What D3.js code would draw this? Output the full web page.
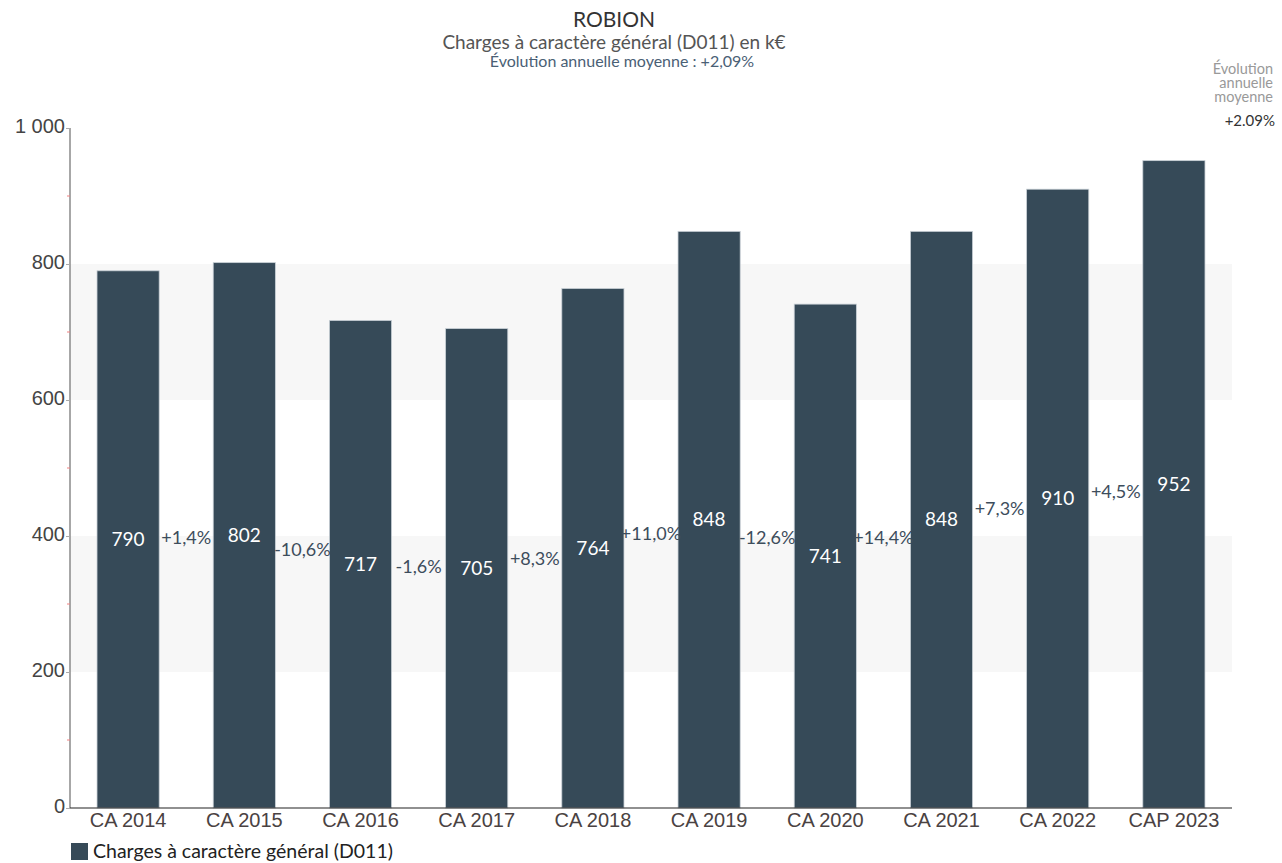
<!DOCTYPE html>
<html><head><meta charset="utf-8">
<script src="https://cdn.jsdelivr.net/npm/d3@7"></script>
<style>
html,body{margin:0;padding:0;background:#fff;}
svg{display:block;font-family:Lato,"Open Sans",sans-serif;}
</style></head>
<body>
<svg id="chart" width="1282" height="863"></svg>
<script>
const categories = ["CA 2014","CA 2015","CA 2016","CA 2017","CA 2018","CA 2019","CA 2020","CA 2021","CA 2022","CAP 2023"];
const values = [790, 802, 717, 705, 764, 848, 741, 848, 910, 952];
const evolutions = ["+1,4%","-10,6%","-1,6%","+8,3%","+11,0%","-12,6%","+14,4%","+7,3%","+4,5%"];
const yTicks = [0, 200, 400, 600, 800, 1000];
const yMinorTicks = [100, 300, 500, 700, 900];
const bands = [[200, 400], [600, 800]];
const seriesName = "Charges à caractère général (D011)";
const titleText = "ROBION";
const subtitleText = "Charges à caractère général (D011) en k€";
const subtitle2Text = "Évolution annuelle moyenne : +2,09%";
const sideLines = ["Évolution", "annuelle", "moyenne"];
const sideValue = "+2.09%";

const svg = d3.select("#chart");
const m = {left: 70, right: 1232, top: 128, bottom: 808};
const x = d3.scaleBand().domain(categories).range([m.left, m.right]).paddingInner(0.465).paddingOuter(0.2325);
const y = d3.scaleLinear().domain([0, 1000]).range([m.bottom, m.top]);
const barColor = "#364a58";

// bands
svg.append("g").selectAll("rect").data(bands).join("rect")
  .attr("x", m.left).attr("width", m.right - m.left)
  .attr("y", d => y(d[1])).attr("height", d => y(d[0]) - y(d[1]))
  .attr("fill", "#f7f7f7");

// bars
svg.append("g").selectAll("rect").data(values).join("rect")
  .attr("x", (d, i) => x(categories[i]))
  .attr("width", x.bandwidth())
  .attr("y", d => y(d))
  .attr("height", d => y(0) - y(d))
  .attr("fill", barColor)
  .attr("stroke", "#c9d0d6").attr("stroke-width", 0.8);

// y axis
const yAxis = svg.append("g").attr("transform", `translate(${m.left},0)`)
  .call(d3.axisLeft(y).tickValues(yTicks).tickSize(4).tickPadding(1)
    .tickFormat(d => d3.format(",")(d).replace(/,/g, "\u00a0")));
yAxis.select(".domain").attr("stroke", "#8a8a8a").attr("stroke-width", 1.5).attr("d", `M0,${m.bottom}V${m.top}`);
yAxis.selectAll(".tick line").attr("stroke", "#aaa");
yAxis.selectAll(".tick text").attr("fill", "#444").style("font-size", "20px").attr("dy", "0.2em");
svg.append("g").selectAll("line").data(yMinorTicks).join("line")
  .attr("x1", m.left - 3).attr("x2", m.left).attr("y1", d => y(d)).attr("y2", d => y(d))
  .attr("stroke", "#f08080").attr("stroke-width", 1);

// x axis
const xAxis = svg.append("g").attr("transform", `translate(0,${m.bottom})`)
  .call(d3.axisBottom(x).tickSize(0));
xAxis.select(".domain").attr("stroke", "#222").attr("stroke-width", 1.2).attr("d", `M${m.left},0H${m.right}`);
xAxis.selectAll(".tick text").attr("fill", "#4a4242").style("font-size", "20px").attr("y", 19).attr("dy", null);

// value labels
svg.append("g").selectAll("text").data(values).join("text")
  .attr("x", (d, i) => x(categories[i]) + x.bandwidth() / 2)
  .attr("y", d => (y(d) + y(0)) / 2)
  .attr("text-anchor", "middle").attr("dy", "0.35em")
  .attr("fill", "#fff").style("font-size", "19px")
  .text(d => d);

// evolution labels
svg.append("g").selectAll("text").data(evolutions).join("text")
  .attr("x", (d, i) => (x(categories[i]) + x(categories[i + 1]) + x.bandwidth()) / 2)
  .attr("y", (d, i) => ((y(values[i]) + y(0)) / 2 + (y(values[i + 1]) + y(0)) / 2) / 2)
  .attr("text-anchor", "middle").attr("dy", "0.35em")
  .attr("fill", "#3d4d5c").style("font-size", "18px")
  .text(d => d);

// titles
svg.append("text").attr("x", 614).attr("y", 27).attr("text-anchor", "middle")
  .attr("fill", "#333").style("font-size", "21px").text(titleText);
svg.append("text").attr("x", 614).attr("y", 49).attr("text-anchor", "middle")
  .attr("fill", "#555").style("font-size", "19px").text(subtitleText);
svg.append("text").attr("x", 622).attr("y", 67).attr("text-anchor", "middle")
  .attr("fill", "#4a6075").style("font-size", "16px").text(subtitle2Text);

// side note (one multi-line text)
const sideText = svg.append("text").attr("text-anchor", "end").attr("x", 1273).attr("y", 74)
  .attr("fill", "#999").style("font-size", "14.5px");
sideLines.forEach((t, i) => sideText.append("tspan").attr("x", 1273).attr("dy", i === 0 ? 0 : 14).text(t));
svg.append("text").attr("text-anchor", "end").attr("x", 1275).attr("y", 126)
  .attr("fill", "#333").style("font-size", "15px").text(sideValue);

// legend
svg.append("rect").attr("x", 71).attr("y", 843).attr("width", 17).attr("height", 17).attr("fill", barColor);
svg.append("text").attr("x", 93).attr("y", 858).attr("fill", "#222").style("font-size", "19.5px").text(seriesName);
</script>
</body></html>
